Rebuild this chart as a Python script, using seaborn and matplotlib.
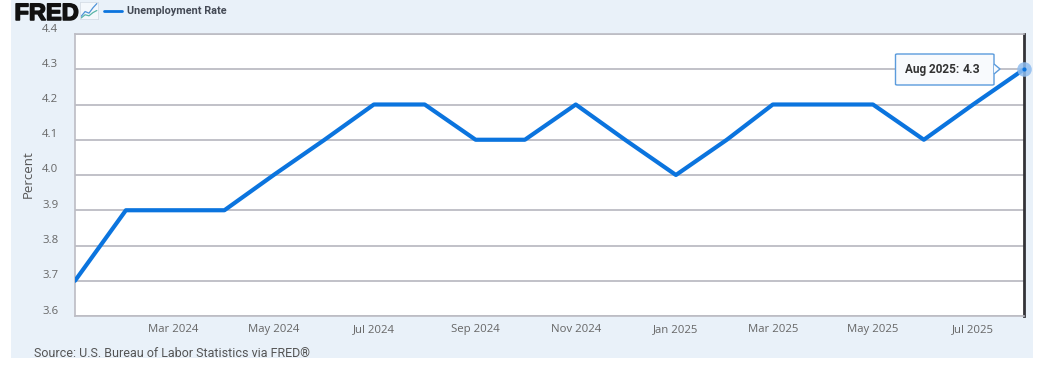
import pandas as pd
import matplotlib.pyplot as plt
import matplotlib.dates as mdates
import matplotlib.patheffects as pe
from matplotlib.patches import Rectangle, FancyBboxPatch, Polygon
from matplotlib.transforms import ScaledTranslation
import seaborn as sns

W, H = 1042, 365

# values
months = pd.date_range("2024-01-01", "2025-08-01", freq="MS")
rate = [3.7, 3.9, 3.9, 3.9, 4.0, 4.1, 4.2, 4.2, 4.1, 4.1,
        4.2, 4.1, 4.0, 4.1, 4.2, 4.2, 4.2, 4.1, 4.2, 4.3]
y_ticks = [3.6, 3.7, 3.8, 3.9, 4.0, 4.1, 4.2, 4.3, 4.4]
x_ticks = pd.to_datetime(["2024-03-01", "2024-05-01", "2024-07-01", "2024-09-01", "2024-11-01",
                          "2025-01-01", "2025-03-01", "2025-05-01", "2025-07-01"])
icon_x = [0, 1, 2, 3, 4]
icon_a = [0.5, 1.4, 1.1, 2.1, 2.9]
icon_b = [0.2, 0.8, 0.6, 1.2, 1.6]

df = pd.DataFrame({"date": months, "rate": rate})

sns.set_theme(style="white")
plt.rcParams["font.family"] = ["Roboto", "DejaVu Sans"]

blue = "#0b74de"
grid = "#bcbcc4"
text_col = "#666666"

fig = plt.figure(figsize=(W / 100, H / 100), dpi=100, facecolor="white")


def fx(x):
    return x / W


def fy(y):
    return 1 - y / H


# page background
fig.patches.append(Rectangle((fx(11), fy(358)), fx(1022), 358 / H, transform=fig.transFigure,
                             facecolor="#e9f1f9", edgecolor="none", zorder=-5))

ax = fig.add_axes([fx(75), fy(316), fx(949), (316 - 34) / H])
ax.set_facecolor("white")
sns.lineplot(data=df, x="date", y="rate", ax=ax, color=blue, linewidth=3, clip_on=True, zorder=3)

ax.set_xlim(months[0], months[-1])
ax.set_ylim(3.6, 4.4)
ax.set_yticks(y_ticks)
ax.set_xticks(x_ticks)
ax.xaxis.set_major_formatter(mdates.DateFormatter("%b %Y"))
ax.set_xlabel("")
ax.set_ylabel("")
ax.grid(axis="y", color=grid, linewidth=1.3)
ax.tick_params(axis="x", length=5, width=0.8, color="#d0d8e4", labelsize=8.2, labelcolor=text_col, pad=1)
ax.tick_params(axis="y", length=0, labelsize=8.2, labelcolor=text_col, pad=12)
for lab in ax.get_xticklabels():
    lab.set_fontfamily("Open Sans")
# y labels sit a little above their gridlines
up = ScaledTranslation(0, 5 / 100, fig.dpi_scale_trans)
for lab in ax.get_yticklabels():
    lab.set_fontfamily("Open Sans")
    lab.set_verticalalignment("center")
    lab.set_transform(lab.get_transform() + up)
for s in ["top", "left", "bottom"]:
    ax.spines[s].set_color(grid)
    ax.spines[s].set_linewidth(1.2)
ax.spines["right"].set_color("#333338")
ax.spines["right"].set_linewidth(2)
fig.text(fx(28), fy(174), "Percent", fontsize=9.5, fontfamily="Open Sans", color="#555555",
         rotation=90, va="center", ha="center")

# hover marker on the last point
ax.scatter([months[-1]], [rate[-1]], s=110, color="#8fbdf0", alpha=0.85, clip_on=False, zorder=5, linewidths=0)
ax.scatter([months[-1]], [rate[-1]], s=9, color=blue, clip_on=False, zorder=6, linewidths=0)

# tooltip
fig.add_artist(FancyBboxPatch((fx(895.5), fy(85)), fx(98.5), 31 / H, transform=fig.transFigure,
                              boxstyle="round,pad=0,rounding_size=0.002", facecolor="#f8fafd",
                              edgecolor="#5b9bdc", linewidth=1))
fig.add_artist(Polygon([(fx(994), fy(64)), (fx(1000), fy(69)), (fx(994), fy(74))], closed=False,
                       transform=fig.transFigure, facecolor="#f8fafd", edgecolor="#5b9bdc", linewidth=1))
fig.text(fx(905), fy(69.5), "Aug 2025:", fontsize=8.5, fontweight="bold", color="#333333", va="center")
fig.text(fx(963), fy(69.5), "4.3", fontsize=8.8, fontweight="bold", color="#333333", va="center")

# header
logo = fig.text(fx(14.5), fy(20), "FRED", fontsize=17, fontweight="bold", fontfamily="Liberation Sans",
                color="#111111", va="baseline")
logo.set_path_effects([pe.withStroke(linewidth=1.1, foreground="#111111")])
icon = fig.add_axes([fx(80), fy(19), fx(18), 17 / H])
icon.set_facecolor("#f4f8fc")
sns.lineplot(x=icon_x, y=icon_a, ax=icon, color="#4f93d8", linewidth=0.9)
sns.lineplot(x=icon_x, y=icon_b, ax=icon, color="#58b5a8", linewidth=0.9)
icon.set_ylim(0, 3.2)
icon.set_xlim(-0.3, 4.3)
icon.set(xticks=[], yticks=[], xlabel="", ylabel="")
for s in icon.spines.values():
    s.set_color("#d5dde6")
    s.set_linewidth(0.6)

fig.add_artist(plt.Line2D([fx(104), fx(122)], [fy(11), fy(11)], color=blue, linewidth=2,
                          transform=fig.transFigure))
fig.text(fx(127), fy(10.5), "Unemployment Rate", fontsize=7.8, fontweight="bold", color="#444a55", va="center")

# footer
fig.text(fx(34), fy(353.5), "Source: U.S. Bureau of Labor Statistics via FRED®", fontsize=9,
         color="#555555", va="center")

fig.savefig("out.png", dpi=100)
